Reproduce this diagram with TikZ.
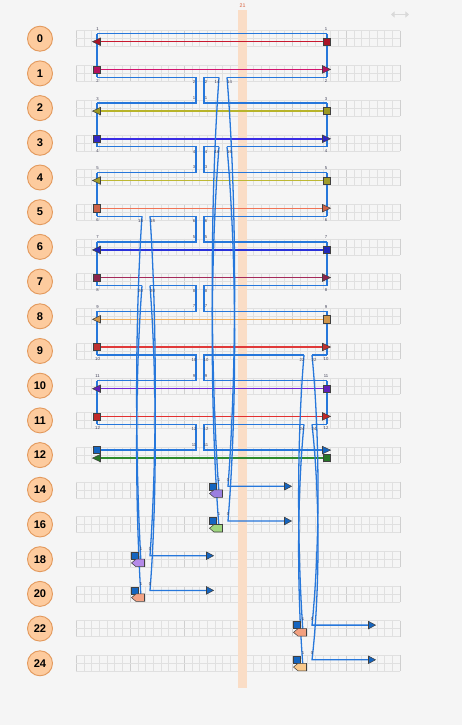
\documentclass[tikz,border=0pt]{standalone}
\usepackage{fontspec}
\setmainfont{Liberation Sans}
\usetikzlibrary{arrows.meta}
\definecolor{paper}{HTML}{F5F5F5}
\definecolor{gridmin}{HTML}{E0E0E0}
\definecolor{gridmaj}{HTML}{CFCFCF}
\definecolor{routec}{HTML}{2677DB}
\definecolor{qfill}{HTML}{FDCB9E}
\definecolor{qedge}{HTML}{E39A5E}
\definecolor{bandfill}{HTML}{FADDC6}
\definecolor{bandtxt}{HTML}{D8603C}
\definecolor{tagc}{HTML}{3E3E55}
\definecolor{sqblue}{HTML}{1565C0}
\definecolor{w0}{HTML}{C8182E}
\definecolor{w1}{HTML}{D3146E}
\definecolor{w2}{HTML}{B8B42A}
\definecolor{w3}{HTML}{3A2CE4}
\definecolor{w4}{HTML}{BDB834}
\definecolor{w5}{HTML}{F07456}
\definecolor{w6}{HTML}{2A31DA}
\definecolor{w7}{HTML}{A52A5A}
\definecolor{w8}{HTML}{F4B05A}
\definecolor{w9}{HTML}{E03A3A}
\definecolor{w10}{HTML}{7224D8}
\definecolor{w11}{HTML}{E23030}
\definecolor{w12}{HTML}{2E8B2E}
\definecolor{p14}{HTML}{9B7FE0}
\definecolor{p16}{HTML}{9ED67E}
\definecolor{p18}{HTML}{B48AE8}
\definecolor{p20}{HTML}{F4A385}
\definecolor{p22}{HTML}{F2A080}
\definecolor{p24}{HTML}{F9C98C}

\begin{document}
\begin{tikzpicture}[
    x=0.03cm, y=-0.03cm,
    line cap=butt, line join=miter,
    qubit/.style={circle, draw=qedge, fill=qfill, line width=0.8pt,
        minimum size=0.75cm, inner sep=0pt,
        font=\fontsize{9.5}{10}\selectfont\bfseries},
    wire/.style={line width=1.2pt},
    route/.style={draw=routec, line width=1.1pt},
    endmk/.style={draw=black!75, line width=0.45pt},
    tag/.style={font=\fontsize{3.6}{4}\selectfont, text=tagc, inner sep=0pt},
]

% Page
\fill[paper] (0,0) rectangle (462,725);
\useasboundingbox (0,0) rectangle (462,725);

% Lanes (grid strips)
\foreach \i in {0,...,18}{
  \pgfmathsetmacro\yy{38.7+34.7*\i}
  \foreach \k in {0,...,42}
    \draw[gridmin, line width=0.35pt] ({76+7.714*\k},\yy-8) -- ++(0,16);
  \foreach \k in {0,...,6}
    \draw[gridmaj, line width=0.5pt] ({76+54*\k},\yy-8) -- ++(0,16);
  \foreach \d in {-8,0,8}
    \draw[gridmin, line width=0.35pt] (76,{\yy+(\d)}) -- (400,{\yy+(\d)});
}

% Qubit labels
\foreach \i/\lab in {0/0,1/1,2/2,3/3,4/4,5/5,6/6,7/7,8/8,9/9,10/10,11/11,
    12/12,13/14,14/16,15/18,16/20,17/22,18/24}
  \node[qubit] (q\lab) at (40,{38.7+34.7*\i}) {\lab};

% Time marker band
\fill[bandfill] (238.3,10) rectangle (246.7,688);
\node[tag, text=bandtxt, font=\fontsize{4.5}{5}\selectfont] (tmark) at (242.5,6) {21};

% Zoom icon
\draw[gray!30, line width=1.5pt, {Triangle[length=3pt,width=5pt]}-{Triangle[length=3pt,width=5pt]}]
    (391,14.5) -- (409,14.5);

% Coloured wires
\foreach \i/\c in {0/w0,2/w2,4/w4,6/w6,8/w8,10/w10,12/w12}{
  \pgfmathsetmacro\yy{38.7+34.7*\i+3}
  \draw[wire,\c] (97,\yy) -- (327,\yy);
}
\foreach \i/\c in {1/w1,3/w3,5/w5,7/w7,9/w9,11/w11}{
  \pgfmathsetmacro\yy{38.7+34.7*\i-4}
  \draw[wire,\c] (97,\yy) -- (327,\yy);
}

% Side rails
\draw[route] (97,33.7) -- (327,33.7);
\foreach \k in {0,...,5}{
  \pgfmathsetmacro\ytop{38.7+34.7*(2*\k)-5}
  \pgfmathsetmacro\ybot{38.7+34.7*(2*\k+1)+4}
  \pgfmathtruncatemacro\ta{2*\k+1}
  \pgfmathtruncatemacro\tb{2*\k+2}
  \draw[route] (97,\ytop) -- (97,\ybot);
  \draw[route] (327,\ytop) -- (327,\ybot);
  \node[tag] (rl\ta) at (97.5,\ytop-4.5) {\ta};
  \node[tag] (rr\ta) at (326,\ytop-4.5) {\ta};
  \node[tag] (rl\tb) at (97.5,\ybot+4) {\tb};
  \node[tag] (rr\tb) at (326,\ybot+4) {\tb};
}

% Routes to rows 14 and 16
\foreach \o/\t/\lab in {1/13/14,3/14/16}{
  \pgfmathsetmacro\ya{38.7+34.7*\o+4}
  \pgfmathsetmacro\yb{38.7+34.7*(\o+1)-5}
  \pgfmathsetmacro\yt{38.7+34.7*\t}
  \pgfmathsetmacro\ca{\ya+0.3*(\yt-\ya)}
  \pgfmathsetmacro\cb{\ya+0.7*(\yt-\ya)}
  \pgfmathtruncatemacro\on{\o+1}
  \draw[route] (97,\ya) -- (196,\ya) -- (196,\yb) -- (97,\yb);
  \draw[route] (219,\ya) -- (204,\ya) -- (204,\yb) -- (327,\yb);
  \draw[route] (227,\ya) -- (327,\ya);
  \draw[route] (219,\ya) .. controls (210,\ca) and (210,\cb) .. (219,\yt+3.5);
  \draw[route] (227,\ya) .. controls (237,\ca) and (237,\cb) .. (228,\yt-3.5) -- (285,\yt-3.5);
  \node[tag] (ua\o) at (194,\ya+5) {\on};
  \node[tag] (ub\o) at (194,\yb-5) {\o};
  \node[tag] (va\o) at (206,\ya+5) {\on};
  \node[tag] (vb\o) at (206,\yb-5) {\o};
  \node[tag] (la\o) at (217,\ya+5) {\lab};
  \node[tag] (lb\o) at (229.5,\ya+5) {\lab};
}

% Routes to rows 18 and 20
\foreach \o/\t/\lab in {5/15/18,7/16/20}{
  \pgfmathsetmacro\ya{38.7+34.7*\o+4}
  \pgfmathsetmacro\yb{38.7+34.7*(\o+1)-5}
  \pgfmathsetmacro\yt{38.7+34.7*\t}
  \pgfmathsetmacro\ca{\ya+0.3*(\yt-\ya)}
  \pgfmathsetmacro\cb{\ya+0.7*(\yt-\ya)}
  \pgfmathtruncatemacro\on{\o+1}
  \draw[route] (97,\ya) -- (142,\ya);
  \draw[route] (150,\ya) -- (196,\ya) -- (196,\yb) -- (97,\yb);
  \draw[route] (327,\ya) -- (204,\ya) -- (204,\yb) -- (327,\yb);
  \draw[route] (142,\ya) .. controls (135,\ca) and (135,\cb) .. (141,\yt+3.5);
  \draw[route] (150,\ya) .. controls (157,\ca) and (157,\cb) .. (150,\yt-3.5) -- (207,\yt-3.5);
  \node[tag] (ua\o) at (194,\ya+5) {\on};
  \node[tag] (ub\o) at (194,\yb-5) {\o};
  \node[tag] (va\o) at (206,\ya+5) {\on};
  \node[tag] (vb\o) at (206,\yb-5) {\o};
  \node[tag] (la\o) at (140.5,\ya+5) {\lab};
  \node[tag] (lb\o) at (152.5,\ya+5) {\lab};
}

% Routes to rows 22 and 24
\foreach \o/\t/\lab in {9/17/22,11/18/24}{
  \pgfmathsetmacro\ya{38.7+34.7*\o+4}
  \pgfmathsetmacro\yb{38.7+34.7*(\o+1)-5}
  \pgfmathsetmacro\yt{38.7+34.7*\t}
  \pgfmathsetmacro\ca{\ya+0.3*(\yt-\ya)}
  \pgfmathsetmacro\cb{\ya+0.7*(\yt-\ya)}
  \pgfmathtruncatemacro\on{\o+1}
  \draw[route] (97,\ya) -- (196,\ya) -- (196,\yb) -- (97,\yb);
  \draw[route] (304,\ya) -- (204,\ya) -- (204,\yb) -- (327,\yb);
  \draw[route] (312,\ya) -- (327,\ya);
  \draw[route] (304,\ya) .. controls (297,\ca) and (297,\cb) .. (303,\yt+3.5);
  \draw[route] (312,\ya) .. controls (320,\ca) and (320,\cb) .. (312,\yt-3.5) -- (369,\yt-3.5);
  \node[tag] (ua\o) at (194,\ya+5) {\on};
  \node[tag] (ub\o) at (194,\yb-5) {\o};
  \node[tag] (va\o) at (206,\ya+5) {\on};
  \node[tag] (vb\o) at (206,\yb-5) {\o};
  \node[tag] (la\o) at (302,\ya+5) {\lab};
  \node[tag] (lb\o) at (314,\ya+5) {\lab};
}

% Wire end markers
\foreach \i/\c in {0/w0,2/w2,4/w4,6/w6,8/w8,10/w10,12/w12}{
  \pgfmathsetmacro\yy{38.7+34.7*\i+3}
  \draw[endmk, fill=\c!85!black] (100.5,\yy-3.75) -- (92.5,\yy) -- (100.5,\yy+3.75) -- cycle;
  \draw[endmk, fill=\c!85!black] (323,\yy-3.6) rectangle (330.2,\yy+3.6);
}
\foreach \i/\c in {1/w1,3/w3,5/w5,7/w7,9/w9,11/w11}{
  \pgfmathsetmacro\yy{38.7+34.7*\i-4}
  \draw[endmk, fill=\c!85!black] (93.4,\yy-3.6) rectangle (100.6,\yy+3.6);
  \draw[endmk, fill=\c!85!black] (322.5,\yy-3.75) -- (330.5,\yy) -- (322.5,\yy+3.75) -- cycle;
}
% row 12 routing ends
\draw[endmk, fill=sqblue] (93.4,446.5) rectangle (100.6,453.7);
\draw[endmk, fill=sqblue] (322.5,446.35) -- (330.5,450.1) -- (322.5,453.85) -- cycle;

% Arrivals on rows 14--24
\foreach \t/\xs/\c in {13/213/p14,14/213/p16,15/135/p18,16/135/p20,17/297/p22,18/297/p24}{
  \pgfmathsetmacro\yt{38.7+34.7*\t}
  \draw[endmk, fill=sqblue] (\xs-3.5,\yt-7) rectangle (\xs+3.5,\yt);
  \draw[endmk, fill=\c] (\xs-3.5,\yt+3.75) -- (\xs+1,\yt) -- (\xs+9.5,\yt)
      -- (\xs+9.5,\yt+7.5) -- (\xs+1,\yt+7.5) -- cycle;
  \draw[endmk, fill=sqblue] (\xs+71.5,\yt-7.25) -- (\xs+78.5,\yt-3.5) -- (\xs+71.5,\yt+0.25) -- cycle;
  \node[tag] (sa\t) at (\xs+6,\yt-10) {1};
  \node[tag] (sb\t) at (\xs+15,\yt-10) {0};
}

\end{tikzpicture}
\end{document}
